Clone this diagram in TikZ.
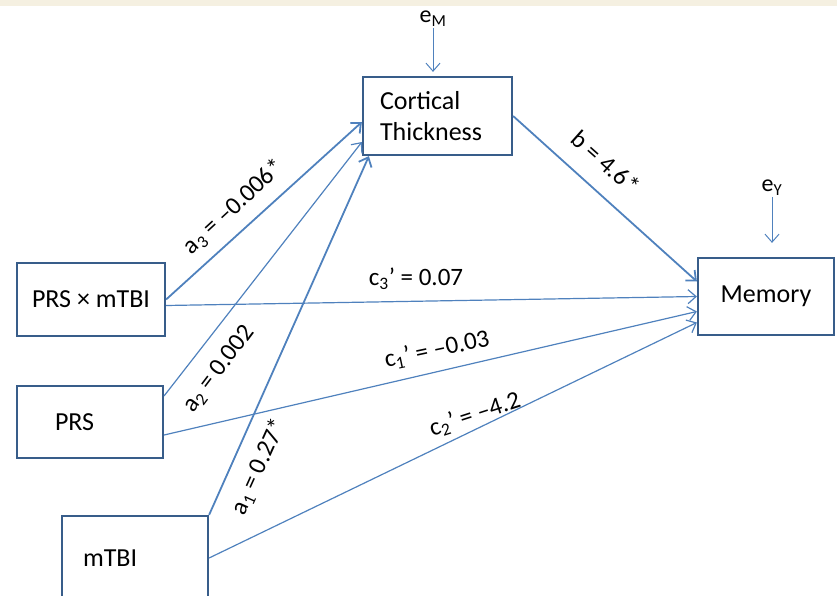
\documentclass[tikz,border=0pt]{standalone}
\usepackage{fontspec}
\setmainfont{Carlito}
\usetikzlibrary{arrows.meta,positioning}
\definecolor{linkblue}{RGB}{79,129,189}
\definecolor{boxblue}{RGB}{56,93,138}
\definecolor{bandcol}{RGB}{245,240,225}

\tikzset{
  varbox/.style={draw=boxblue,line width=2.2pt,fill=white,
    font=\fontsize{26}{31}\selectfont},
  effect/.style={->,draw=linkblue,line width=1.2pt},
  maineffect/.style={->,draw=linkblue,line width=1.8pt},
  errarrow/.style={->,draw=linkblue,line width=1pt},
  coef/.style={font=\fontsize{25}{30}\selectfont,inner sep=0pt},
  errlabel/.style={font=\fontsize{24}{28}\selectfont,inner sep=1pt}
}

\begin{document}
\begin{tikzpicture}[>={Straight Barb[length=8pt,width=14pt]},x=1pt,y=-1pt]
\useasboundingbox (0,0) rectangle (837,596);
\fill[bandcol] (0,0) rectangle (837,6);
%%
  % Node: ct
  \node[varbox,text width=115pt,inner xsep=17pt,align=left,minimum height=78pt] (ct) at (437.5,116) {Cortical\\Thickness};
  % Node: mem
  \node[varbox,minimum width=136pt,minimum height=77pt] (mem) at (766,296.5) {Memory};
  % Node: prsx
  \node[varbox,minimum width=148pt,minimum height=73pt] (prsx) at (91,299.5) {PRS × mTBI};
  % Node: prs
  \node[varbox,text width=70pt,inner xsep=38pt,align=left,minimum height=72pt] (prs) at (90,422) {PRS};
  % Node: tbi
  \node[varbox,text width=104pt,inner xsep=21pt,align=left,minimum height=84pt] (tbi) at (135,558) {mTBI};
  % Node: em, ey
  \node[errlabel] (em) at (433,19) {e\textsubscript{M}};
  \node[errlabel] (ey) at (772,188) {e\textsubscript{Y}};
%%
  % Edge: em -> ct, ey -> mem
  \draw[errarrow,shorten >=4pt] (em.south) -- (em.south |- ct.north);
  \draw[errarrow,shorten >=14pt] (ey.south) -- (ey.south |- mem.north);
  % Edge: prsx -> ct
  \draw[maineffect] (prsx.east) -- ([yshift=-6pt]ct.west);
  \node[coef,rotate=42.6] (la3) at (234,207) {a\textsubscript{3} = –0.006*};
  % Edge: prs -> ct
  \draw[effect] ([yshift=-11pt]prs.north east) -- ([yshift=-26pt]ct.west);
  \node[coef,rotate=53] (la2) at (219,369) {a\textsubscript{2} = 0.002};
  % Edge: tbi -> ct
  \draw[maineffect] (tbi.north east) -- ([xshift=7pt]ct.south west);
  \node[coef,rotate=65.7] (la1) at (259,467) {a\textsubscript{1} = 0.27*};
  % Edge: ct -> mem
  \draw[maineffect] (ct.east) -- ([yshift=15pt]mem.west);
  \node[coef,rotate=-41.6] (lb) at (606,162) {b = 4.6*};
  % Edge: prsx -> mem
  \draw[effect] ([yshift=-6pt]prsx.east) -- (mem.west);
  \node[coef] (lc3) at (416,279) {c\textsubscript{3}’ = 0.07};
  % Edge: prs -> mem
  \draw[effect] ([yshift=-13pt]prs.east) -- ([yshift=-15pt]mem.west);
  \node[coef,rotate=12] (lc1) at (437,350) {c\textsubscript{1}’ = –0.03};
  % Edge: tbi -> mem
  \draw[effect] (tbi.east) -- ([yshift=-26pt]mem.west);
  \node[coef,rotate=18] (lc2) at (475,415) {c\textsubscript{2}’ = –4.2};
%
\end{tikzpicture}
\end{document}
